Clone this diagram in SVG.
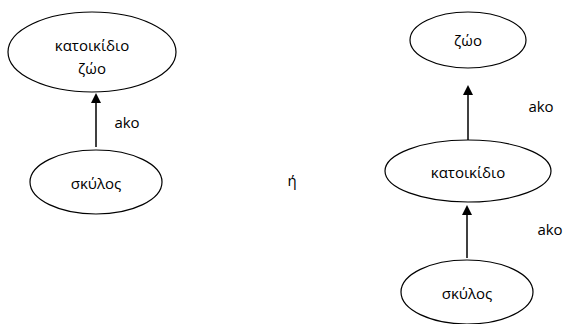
<svg xmlns="http://www.w3.org/2000/svg" width="570" height="324" viewBox="0 0 570 324">
<defs>
<style>
.n{fill:#fff;stroke:#000;stroke-width:1.2}
.t{font-family:"Open Sans","Noto Sans","DejaVu Sans",sans-serif;font-size:15px;fill:#000;text-anchor:middle;dominant-baseline:central}
.e{stroke:#000;stroke-width:1.5;fill:none}
.h{fill:#000}
</style>
</defs>
<g id="n1"><ellipse class="n" cx="92" cy="52" rx="84" ry="40"/><text class="t" x="92" y="45">κατοικίδιο</text><text class="t" x="92" y="68">ζώο</text></g>
<g id="n2"><ellipse class="n" cx="96" cy="182" rx="66" ry="32"/><text class="t" x="96" y="183">σκύλος</text></g>
<g id="n3"><ellipse class="n" cx="468" cy="40" rx="58" ry="28"/><text class="t" x="468" y="40">ζώο</text></g>
<g id="n4"><ellipse class="n" cx="468" cy="171" rx="83" ry="31"/><text class="t" x="468" y="172">κατοικίδιο</text></g>
<g id="n5"><ellipse class="n" cx="467" cy="292" rx="66" ry="32"/><text class="t" x="467" y="293">σκύλος</text></g>
<g id="edges">
<line class="e" x1="96" y1="147" x2="96" y2="102"/><polygon class="h" points="96,93 91,103 101,103"/>
<line class="e" x1="468" y1="140" x2="468" y2="94"/><polygon class="h" points="468,85 463,95 473,95"/>
<line class="e" x1="467" y1="258" x2="467" y2="214"/><polygon class="h" points="467,205 462,215 472,215"/>
<text class="t" x="127" y="122">ako</text>
<text class="t" x="541" y="106">ako</text>
<text class="t" x="550" y="229">ako</text>
</g>
<text class="t" x="292" y="180">ή</text>
</svg>
